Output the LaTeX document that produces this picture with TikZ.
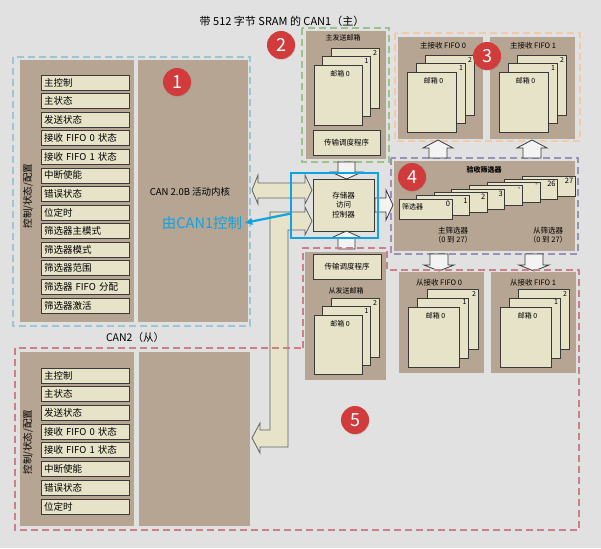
\documentclass[tikz,border=0pt]{standalone}
\usepackage{fontspec}
\setmainfont{Noto Sans CJK SC}
\usetikzlibrary{calc,shadows,arrows.meta}
\definecolor{bg}{HTML}{E1E1E1}
\definecolor{brn}{HTML}{B5A592}
\definecolor{crm}{HTML}{E7E3C8}
\definecolor{bluedash}{HTML}{9CC6D3}
\definecolor{greendash}{HTML}{9DC488}
\definecolor{orangedash}{HTML}{F0CBAA}
\definecolor{purpledash}{HTML}{9C92B8}
\definecolor{reddash}{HTML}{C8818A}
\definecolor{hiblue}{HTML}{0FA3E3}
\definecolor{badgered}{HTML}{D13B3B}
\definecolor{edge}{HTML}{3A3A3A}
\definecolor{holl}{HTML}{F3F3F3}
\newcommand\fsz[2]{\fontsize{#1}{#2}\selectfont}
\newcommand\pan[5]{\node[panel,minimum width={(#4)-(#2)},minimum height={(#5)-(#3)}] (#1) at (#2,#3) {};}
\newcommand\mstack[7]{%
  \node[mb,minimum width=#4,minimum height=#5] (#1c) at ({#2+2*#6},{#3-2*#7}) {};
  \node[num] (#1cn) at (#1c.north east) {2};
  \node[mb,minimum width=#4,minimum height=#5] (#1b) at ({#2+#6},{#3-#7}) {};
  \node[num] (#1bn) at (#1b.north east) {1};
  \node[mb,minimum width=#4,minimum height=#5] (#1a) at (#2,#3) {};
  \node[lbl] (#1an) at ($(#1a.north)+(2,8.5)$) {邮箱 0};
}
\begin{document}
\begin{tikzpicture}[x=1pt,y=-1pt,
  panel/.style={fill=brn,draw=none,anchor=north west,inner sep=0,outer sep=0},
  reg/.style={draw=edge,fill=crm,line width=0.8pt,anchor=north west,minimum height=15pt,text width=82pt,inner xsep=3pt,inner ysep=0pt,outer sep=0,align=left,font=\fsz{9.5}{11}},
  mb/.style={draw=edge,fill=crm,line width=0.8pt,anchor=north west,inner sep=0,outer sep=0},
  num/.style={font=\fsz{7}{8},inner sep=1.8pt,anchor=north east},
  lbl/.style={font=\fsz{7}{8},inner sep=0},
  badge/.style={circle,fill=badgered,text=white,minimum size=28pt,inner sep=0,font=\fsz{18}{18},drop shadow={opacity=0.3,shadow xshift=0.6pt,shadow yshift=-0.8pt}},
  zone/.style={line width=2.7pt,dash pattern=on 7pt off 4pt},
  bus/.style={draw=edge!80,fill=crm,line width=0.8pt},
  hollow/.style={draw=edge,fill=holl,line width=0.8pt},
]
\fill[bg] (0,0) rectangle (601,548);
\useasboundingbox (0,0) rectangle (601,548);

\node[font=\fsz{11}{13}] (title) at (282,21) {带 512 字节 SRAM 的 CAN1（主）};

% ---------- Region 1: CAN1 ----------
\pan{p1l}{20}{60}{134}{322}
\pan{p1r}{138}{60}{248}{322}
\foreach \t [count=\i from 0] in {主控制,主状态,发送状态,接收 FIFO 0 状态,接收 FIFO 1 状态,中断使能,错误状态,位定时,筛选器主模式,筛选器模式,筛选器范围,筛选器 FIFO 分配,筛选器激活}
  \node[reg] (ra\i) at (41,{75+18.58*\i}) {\t};
\node[rotate=90,font=\fsz{9.5}{11}] (cfg1) at (28,196) {控制/状态/配置};
\node[font=\fsz{9.5}{11}] (core1) at (190,192) {CAN 2.0B 活动内核};
\draw[zone,bluedash] (13,57) rectangle (250,326);
\node[badge] (b1) at (177,82) {1};

% ---------- Region 5 lower: CAN2 ----------
\node[font=\fsz{10.5}{12}] (can2) at (135,338) {CAN2（从）};
\pan{p2l}{20}{352}{134}{526}
\pan{p2r}{139}{352}{250}{526}
\foreach \t [count=\i from 0] in {主控制,主状态,发送状态,接收 FIFO 0 状态,接收 FIFO 1 状态,中断使能,错误状态,位定时}
  \node[reg] (rb\i) at (41,{368+18.7*\i}) {\t};
\node[rotate=90,font=\fsz{9.5}{11}] (cfg2) at (28,442) {控制/状态/配置};

% ---------- Region 2: master transmit ----------
\pan{p2}{306}{31}{386}{159}
\node[lbl] (mtx) at (343,38) {主发送邮箱};
\mstack{mt}{314}{65}{48}{60}{8.5}{8.5}
\node[mb,minimum width=67,minimum height=25,font=\fsz{7.5}{9}] (sch1) at (313,130) {传输调度程序};
\draw[zone,greendash] (302,28) rectangle (389,162);
\node[badge] (b2) at (281,45) {2};

% ---------- Region 3: master FIFOs ----------
\pan{f0}{398}{37}{483}{139}
\pan{f1}{490}{37}{575}{139}
\node[lbl,font=\fsz{7.5}{9}] (f0t) at (443,46) {主接收 FIFO 0};
\node[lbl,font=\fsz{7.5}{9}] (f1t) at (533,46) {主接收 FIFO 1};
\mstack{ma}{407}{72}{49}{60}{9}{8.5}
\mstack{mbx}{499}{72}{49}{60}{9}{8.5}
\draw[zone,orangedash] (395,33) rectangle (580,141);
\node[badge] (b3) at (487,56) {3};

% ---------- Region 4: filters ----------
\pan{flt}{394}{161}{575}{251}
\node[font=\bfseries\fsz{7}{8}] (fltt) at (484,170) {验收筛选器};
\foreach \l [count=\k from 0] in {27,26,-,-,3,2,1,0}{
  \pgfmathsetmacro\j{7-\k}
  \node[mb,minimum width=53,minimum height=20] (card\k) at ({399+17.6*\j},{199-3.3*\j}) {};
  \node[num,font=\fsz{7.5}{8}] (cardn\k) at (card\k.north east) {\l};
}
\node[lbl,anchor=west] (fname) at (402,207) {筛选器};
\node[lbl,align=center,font=\fsz{7.5}{9.5}] (mfl) at (453,235) {主筛选器\\（0 到 27）};
\node[lbl,align=center,font=\fsz{7.5}{9.5}] (sfl) at (548,235) {从筛选器\\（0 到 27）};
\draw[zone,purpledash] (391,158) rectangle (578,254);
\node[badge] (b4) at (412,177) {4};

% ---------- slave transmit + slave FIFOs ----------
\pan{p5}{305}{252}{386}{380}
\node[mb,minimum width=68,minimum height=25,font=\fsz{7.5}{9}] (sch2) at (313,254) {传输调度程序};
\node[lbl] (stx) at (346,291) {从发送邮箱};
\mstack{st}{314}{315}{48}{59}{8.5}{8.5}
\pan{s0}{399}{272}{484}{373}
\pan{s1}{491}{272}{576}{373}
\node[lbl,font=\fsz{7.5}{9}] (s0t) at (439,283) {从接收 FIFO 0};
\node[lbl,font=\fsz{7.5}{9}] (s1t) at (533,283) {从接收 FIFO 1};
\mstack{sa}{408}{307}{51}{60}{9.5}{9}
\mstack{sb}{500}{307}{51}{60}{9}{9}

% ---------- memory access controller ----------
\node[mb,minimum width=61,minimum height=52] (mac) at (313,179) {};
\node[align=center,font=\fsz{7.5}{9.5}] (mact) at (mac.center) {存储器\\访问\\控制器};

% buses
\draw[bus] (252,190) -- (258,175) -- (258,183) -- (305,183) -- (305,175) -- (312,190)
  -- (305,204) -- (305,198) -- (258,198) -- (258,204) -- cycle;
\draw[bus] (312,221) -- (305,207) -- (305,212) -- (270,212) -- (270,430) -- (260,430)
  -- (260,423) -- (252,438) -- (260,453) -- (260,447) -- (288,447) -- (288,230)
  -- (305,230) -- (305,235) -- cycle;

% hollow arrows
\draw[hollow] (338,162) -- (355,162) -- (355,172) -- (362,172) -- (346.5,179) -- (331,172) -- (338,172) -- cycle;
\draw[hollow] (338,249) -- (338,238) -- (331,238) -- (346.5,231) -- (362,238) -- (355,238) -- (355,249) -- cycle;
\draw[hollow] (375,198) -- (386,198) -- (386,190) -- (393,205) -- (386,220) -- (386,212) -- (375,212) -- cycle;
\foreach \cx in {438,532}
  \draw[hollow] ({\cx-9},158) -- ({\cx-9},148) -- ({\cx-15},148) -- (\cx,140) -- ({\cx+15},148) -- ({\cx+9},148) -- ({\cx+9},158) -- cycle;
\foreach \cx in {439,534}
  \draw[hollow] ({\cx-9},254) -- ({\cx-9},265) -- ({\cx-15},265) -- (\cx,271) -- ({\cx+15},265) -- ({\cx+9},265) -- ({\cx+9},254) -- cycle;

% region 5 outline
\draw[zone,reddash] (303,348) -- (303,248) -- (387,248) -- (387,270) -- (579,270) -- (579,530) -- (15,530) -- (15,348) -- cycle;
\node[badge] (b5) at (355,420) {5};

% highlight
\node[draw=hiblue,line width=2.6pt,minimum width=87,minimum height=65,anchor=north west,inner sep=0,outer sep=0] (hl) at (291,173) {};
\node[text=hiblue,font=\fsz{14.5}{16},inner sep=2pt] (ctl) at (202,223) {由CAN1控制};
\draw[hiblue,line width=2.2pt,-{Latex[length=8pt,width=8pt]}] ($(hl.west)+(0,8)$) -- (ctl.east);
\end{tikzpicture}
\end{document}
